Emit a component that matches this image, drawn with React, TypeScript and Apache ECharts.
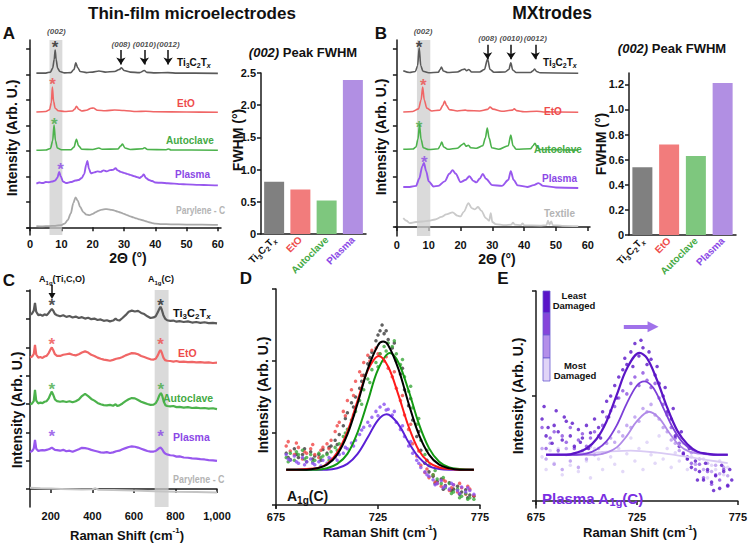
import React, { useEffect, useRef } from 'react';
import * as echarts from 'echarts';

const FONT = '"Liberation Sans", Arial, Helvetica, sans-serif';

// ---------------- Panel A: XRD (thin-film microelectrodes) ----------------
const xrdA_Ti = [[2,6.06],[5,6.06],[6.5,6.1],[7.2,6.25],[7.7,6.6],[8,6.97],[8.3,6.6],[8.8,6.25],[9.5,6.12],[11,6.07],[13,6.08],[14,6.2],[14.6,6.46],[15.2,6.28],[16,6.12],[18,6.08],[20,6.1],[22,6.14],[24,6.1],[27,6.12],[28.5,6.2],[29.2,6.27],[30,6.16],[32,6.1],[35,6.08],[36.5,6.16],[37.3,6.09],[40,6.07],[44,6.08],[47,6.06],[60,6.05]];
const xrdA_EtO = [[2,4.53],[5,4.55],[6.2,4.62],[6.8,4.9],[7.1,5.51],[7.5,4.95],[8,4.68],[9,4.58],[11,4.55],[13.5,4.57],[14.3,4.65],[14.8,4.76],[15.5,4.64],[16.5,4.57],[18,4.6],[19.5,4.68],[20.2,4.69],[21.5,4.6],[24,4.58],[27,4.61],[30,4.59],[34,4.55],[37,4.56],[40,4.54],[50,4.53],[60,4.52]];
const xrdA_Auto = [[2,3.03],[5,3.04],[6.5,3.1],[7.2,3.4],[7.65,4.02],[8.1,3.4],[8.7,3.12],[10,3.05],[13,3.05],[14,3.15],[14.8,3.46],[15.5,3.2],[16.5,3.07],[20,3.06],[22,3.12],[23,3.07],[28,3.08],[29,3.2],[29.5,3.27],[30.3,3.12],[32,3.06],[36,3.09],[36.6,3.13],[37.5,3.06],[43.5,3.05],[44.3,3.08],[45,3.04],[60,3.03]];
const xrdA_Plasma = [[2,1.72],[3,1.76],[4,1.74],[5,1.78],[6,1.77],[7,1.8],[8,1.84],[8.7,1.95],[9.3,2.18],[9.8,2.0],[10.5,1.8],[11.5,1.74],[13,1.78],[14.5,1.84],[15.5,1.86],[16.5,1.94],[17.3,2.1],[17.9,2.45],[18.3,2.61],[18.8,2.3],[19.4,2.12],[20.5,2.16],[21.5,2.2],[22.5,2.18],[23.5,2.24],[24.5,2.2],[25.5,2.25],[26.5,2.26],[27.3,2.32],[28,2.24],[29,2.18],[30,2.14],[31,2.1],[32,2.06],[33,2.02],[34,1.98],[35,1.94],[35.7,2.0],[36.3,2.08],[37,1.94],[38,1.86],[39,1.82],[40,1.76],[42,1.75],[44,1.73],[46,1.72],[48,1.7],[50,1.69],[54,1.67],[57,1.66],[60,1.65]];
const xrdA_Parylene = [[2,0.05],[4,0.04],[6,0.05],[8,0.06],[10,0.09],[11,0.15],[12,0.28],[13,0.55],[13.8,0.95],[14.5,1.18],[15.2,1.05],[16,0.8],[17,0.6],[18,0.5],[19,0.48],[20,0.53],[21,0.6],[22,0.66],[23,0.7],[24,0.72],[25,0.71],[26,0.69],[27,0.66],[28,0.62],[29,0.58],[30,0.53],[31,0.48],[32,0.43],[33,0.39],[34,0.35],[35,0.31],[36,0.28],[37,0.24],[38,0.2],[39,0.17],[40,0.15],[42,0.13],[45,0.12],[50,0.11],[55,0.11],[60,0.1]];

// ---------------- FWHM bars ----------------
const fwhmCategories = ['Ti3C2Tx', 'EtO', 'Autoclave', 'Plasma'];
const fwhmA = [0.81, 0.69, 0.52, 2.39];
const fwhmB = [0.54, 0.72, 0.63, 1.21];

// ---------------- Panel B: XRD (MXtrodes) ----------------
const xrdB_Ti = [[2,6.15],[4,6.08],[5.8,6.12],[6.5,6.35],[7,7.05],[7.5,6.35],[8.2,6.13],[10,6.07],[13,6.09],[13.6,6.2],[14,6.3],[14.6,6.14],[16,6.08],[19,6.1],[20.8,6.2],[21.3,6.22],[21.9,6.15],[22.6,6.2],[23.5,6.1],[26,6.1],[27.5,6.2],[28.5,6.61],[29.3,6.2],[30.5,6.09],[34,6.1],[35.2,6.2],[35.8,6.46],[36.4,6.18],[37.5,6.08],[42,6.08],[42.8,6.15],[43.3,6.22],[43.9,6.12],[45,6.07],[57,6.05]];
const xrdB_EtO = [[2,4.53],[5,4.55],[6.8,4.65],[7.6,5.0],[8.1,5.51],[8.6,5.0],[9.4,4.68],[11,4.57],[13.5,4.6],[14.5,4.8],[15,4.96],[15.6,4.78],[16.5,4.62],[19,4.57],[21.5,4.6],[22.5,4.58],[26,4.57],[28.5,4.63],[29.3,4.72],[30.2,4.64],[33,4.56],[36.3,4.6],[36.9,4.65],[37.6,4.58],[40,4.54],[44,4.56],[46,4.53],[57,4.52]];
const xrdB_Auto = [[2,3.06],[5,3.07],[6,3.15],[6.6,3.45],[7.1,4.02],[7.6,3.45],[8.3,3.12],[10,3.05],[13,3.08],[13.6,3.2],[14.1,3.35],[14.7,3.15],[16,3.06],[19,3.1],[20.6,3.25],[21.1,3.3],[21.7,3.18],[22.5,3.22],[23.2,3.12],[25,3.1],[27,3.2],[27.8,3.5],[28.4,3.9],[29,3.5],[29.8,3.12],[32,3.06],[35,3.2],[35.8,3.62],[36.5,3.2],[37.5,3.06],[42,3.08],[42.8,3.2],[43.4,3.3],[44,3.15],[45,3.05],[57,3.03]];
const xrdB_Plasma = [[2,1.58],[4,1.58],[6,1.62],[7,1.9],[8,2.4],[8.5,2.52],[9.2,2.2],[10,1.8],[11.5,1.6],[13,1.62],[15,1.8],[16.5,2.1],[17.5,2.24],[18.5,2.1],[20,1.77],[21.5,1.85],[22.8,2.0],[24,1.82],[25,1.76],[26,1.9],[27,2.09],[28,1.9],[30,1.65],[33,1.62],[35,1.85],[35.8,2.2],[36.7,1.85],[38,1.64],[41,1.58],[43,1.65],[44.5,1.73],[46,1.62],[50,1.56],[57,1.54]];
const xrdB_Textile = [[2,0.35],[3,0.25],[4,0.16],[6,0.2],[8,0.22],[10,0.25],[12,0.3],[14,0.4],[15.5,0.5],[17.5,0.58],[19,0.45],[20,0.42],[21,0.6],[22.5,0.94],[23.5,0.75],[24.5,0.7],[25.5,0.79],[26.5,0.65],[28,0.35],[29,0.25],[29.5,0.55],[30,0.2],[31,0.12],[34,0.08],[36,0.1],[36.5,0.18],[37,0.1],[39,0.08],[39.5,0.15],[40,0.07],[45,0.06],[47,0.08],[47.5,0.25],[48,0.1],[48.5,0.22],[49,0.08],[52,0.05],[57,0.04]];

// ---------------- Panel C: Raman ----------------
const ramanTi = [[100,6.15],[110,6.2],[118,6.3],[124,6.57],[130,6.26],[140,6.14],[150,6.16],[160,6.12],[170,6.17],[180,6.14],[190,6.22],[198,6.3],[205,6.36],[212,6.3],[220,6.18],[230,6.14],[245,6.1],[260,6.14],[275,6.08],[290,6.11],[305,6.06],[320,6.09],[335,6.04],[350,6.07],[365,6.02],[380,6.05],[395,6.0],[410,6.02],[425,5.97],[440,5.99],[455,5.94],[470,5.96],[485,5.92],[500,5.95],[512,6.02],[520,5.97],[530,5.95],[545,6.04],[560,6.14],[575,6.26],[590,6.3],[605,6.27],[620,6.29],[635,6.22],[650,6.18],[665,6.1],[680,6.04],[695,6.06],[705,6.1],[715,6.24],[722,6.36],[728,6.44],[734,6.34],[742,6.14],[750,6.02],[760,5.96],[775,5.94],[790,5.95],[805,5.91],[820,5.93],[840,5.9],[860,5.92],[880,5.88],[900,5.9],[920,5.87],[940,5.89],[960,5.86],[980,5.87],[1000,5.85]];
const ramanEtO = [[100,4.64],[110,4.68],[118,4.76],[124,5.09],[130,4.75],[140,4.64],[150,4.66],[160,4.63],[170,4.68],[180,4.7],[190,4.8],[198,4.92],[205,5.0],[212,4.9],[220,4.76],[230,4.7],[245,4.7],[260,4.74],[275,4.76],[290,4.78],[305,4.74],[320,4.72],[335,4.76],[350,4.82],[365,4.86],[380,4.82],[395,4.74],[410,4.7],[425,4.64],[440,4.6],[455,4.57],[470,4.55],[485,4.53],[500,4.56],[515,4.6],[530,4.62],[545,4.66],[560,4.72],[575,4.76],[590,4.8],[605,4.79],[620,4.76],[635,4.7],[650,4.66],[665,4.62],[680,4.58],[695,4.57],[705,4.6],[715,4.72],[722,4.84],[728,4.91],[734,4.82],[742,4.64],[750,4.55],[760,4.53],[775,4.52],[790,4.5],[805,4.52],[820,4.49],[840,4.5],[860,4.48],[880,4.49],[900,4.47],[920,4.48],[940,4.46],[960,4.47],[980,4.45],[1000,4.46]];
const ramanAuto = [[100,2.98],[110,3.02],[118,3.1],[124,3.5],[130,3.12],[140,3.02],[150,3.05],[160,3.03],[170,3.08],[180,3.1],[190,3.2],[198,3.34],[205,3.44],[212,3.32],[220,3.16],[230,3.1],[245,3.08],[260,3.1],[275,3.07],[290,3.1],[305,3.06],[320,3.1],[335,3.16],[350,3.28],[365,3.36],[380,3.28],[395,3.18],[410,3.12],[425,3.04],[440,2.99],[455,2.96],[470,2.95],[485,2.97],[500,2.94],[512,2.99],[520,2.93],[530,2.95],[545,3.02],[560,3.1],[575,3.17],[590,3.21],[605,3.2],[620,3.14],[635,3.08],[650,3.04],[665,3.0],[680,2.97],[695,2.98],[705,3.03],[715,3.16],[722,3.3],[730,3.39],[736,3.3],[744,3.08],[752,2.96],[760,2.93],[775,2.92],[790,2.93],[805,2.89],[820,2.9],[840,2.87],[860,2.89],[880,2.86],[900,2.87],[920,2.85],[940,2.86],[960,2.84],[980,2.85],[1000,2.82]];
const ramanPlasma = [[100,1.3],[110,1.34],[118,1.42],[124,1.73],[130,1.42],[140,1.34],[150,1.36],[160,1.37],[170,1.36],[180,1.38],[190,1.4],[198,1.43],[205,1.46],[212,1.42],[220,1.38],[230,1.37],[245,1.35],[260,1.38],[275,1.33],[290,1.35],[305,1.31],[320,1.36],[335,1.4],[350,1.45],[365,1.44],[380,1.42],[395,1.38],[410,1.35],[425,1.32],[440,1.29],[455,1.28],[470,1.3],[485,1.27],[500,1.29],[515,1.33],[530,1.35],[545,1.4],[560,1.44],[575,1.48],[590,1.5],[605,1.49],[620,1.46],[635,1.42],[650,1.38],[665,1.34],[680,1.32],[695,1.32],[705,1.34],[715,1.4],[722,1.44],[728,1.46],[736,1.4],[744,1.3],[752,1.24],[760,1.22],[775,1.19],[790,1.18],[805,1.14],[820,1.15],[840,1.11],[860,1.1],[880,1.08],[900,1.07],[920,1.05],[940,1.04],[960,1.02],[980,1.01],[1000,0.99]];
const ramanParylene = [[100,0.04],[150,0.02],[200,0.01],[250,0.0],[300,-0.01],[350,-0.02],[400,-0.01],[415,0.02],[430,-0.03],[500,-0.04],[600,-0.06],[700,-0.08],[800,-0.1],[900,-0.11],[1000,-0.13]];

// ---------------- Panel D: A1g(C) peak, all treatments ----------------
const dTiPts = [[680,0.72],[681,0.66],[682,0.63],[684,0.78],[685,0.7],[686,0.66],[688,0.7],[689,0.78],[690,0.6],[692,0.74],[693,0.64],[694,0.68],[696,0.7],[697,0.62],[698,0.77],[700,0.72],[701,0.8],[702,0.82],[704,0.9],[705,0.84],[706,0.98],[708,1.1],[709,1.2],[710,1.28],[712,1.42],[713,1.36],[714,1.5],[716,1.62],[717,1.72],[718,1.8],[720,1.96],[721,2.05],[722,2.12],[724,2.28],[725,2.36],[726,2.42],[727,2.5],[728,2.38],[729,2.42],[730,2.3],[732,2.18],[733,2.25],[734,2.0],[736,1.82],[737,1.9],[738,1.6],[740,1.38],[741,1.48],[742,1.18],[744,0.95],[745,1.02],[746,0.76],[748,0.58],[749,0.62],[750,0.46],[752,0.4],[753,0.3],[754,0.33],[756,0.36],[757,0.22],[758,0.27],[760,0.31],[761,0.2],[762,0.22],[764,0.26],[765,0.15],[766,0.18],[768,0.21],[769,0.1],[770,0.14],[772,0.12]];
const dEtOPts = [[680,0.82],[681,0.88],[682,0.75],[684,0.7],[685,0.86],[686,0.8],[688,0.64],[689,0.74],[690,0.72],[692,0.78],[693,0.84],[694,0.7],[696,0.66],[697,0.76],[698,0.8],[700,0.85],[701,0.78],[702,0.9],[704,1.02],[705,1.1],[706,1.15],[708,1.3],[709,1.24],[710,1.45],[712,1.6],[713,1.52],[714,1.72],[716,1.85],[717,1.8],[718,1.98],[720,2.08],[721,2.0],[722,2.15],[724,2.18],[725,2.1],[726,2.1],[728,2.0],[729,2.06],[730,1.9],[732,1.78],[733,1.85],[734,1.62],[736,1.45],[737,1.52],[738,1.25],[740,1.05],[741,1.12],[742,0.85],[744,0.68],[745,0.75],[746,0.55],[748,0.45],[749,0.5],[750,0.38],[752,0.42],[753,0.32],[754,0.3],[756,0.26],[757,0.35],[758,0.33],[760,0.2],[761,0.24],[762,0.28],[764,0.18],[765,0.3],[766,0.24],[768,0.15],[769,0.26],[770,0.22],[772,0.13]];
const dAutoPts = [[680,0.66],[681,0.6],[682,0.72],[684,0.62],[685,0.74],[686,0.7],[688,0.76],[689,0.64],[690,0.66],[692,0.7],[693,0.6],[694,0.62],[696,0.72],[697,0.66],[698,0.68],[700,0.7],[701,0.62],[702,0.74],[704,0.8],[705,0.76],[706,0.85],[708,0.95],[709,1.0],[710,1.05],[712,1.18],[713,1.25],[714,1.3],[716,1.45],[717,1.4],[718,1.6],[720,1.75],[721,1.7],[722,1.88],[724,1.98],[725,1.92],[726,2.1],[728,2.2],[729,2.14],[730,2.25],[732,2.2],[733,2.28],[734,2.1],[736,1.95],[737,2.02],[738,1.78],[740,1.58],[741,1.65],[742,1.35],[744,1.12],[745,1.2],[746,0.9],[748,0.7],[749,0.76],[750,0.55],[752,0.42],[753,0.48],[754,0.36],[756,0.3],[757,0.38],[758,0.24],[760,0.3],[761,0.16],[762,0.18],[764,0.22],[765,0.1],[766,0.12],[768,0.16],[769,0.08],[770,0.1],[772,0.08]];
const dPlasmaPts = [[680,0.7],[681,0.64],[682,0.62],[684,0.68],[685,0.6],[686,0.58],[688,0.66],[689,0.56],[690,0.6],[692,0.64],[693,0.58],[694,0.56],[696,0.6],[697,0.54],[698,0.62],[700,0.58],[701,0.66],[702,0.64],[704,0.66],[705,0.62],[706,0.7],[708,0.72],[709,0.8],[710,0.78],[712,0.86],[713,0.82],[714,0.9],[716,0.98],[717,1.04],[718,1.08],[720,1.15],[721,1.1],[722,1.22],[724,1.3],[725,1.24],[726,1.36],[728,1.4],[729,1.32],[730,1.33],[732,1.25],[733,1.3],[734,1.15],[736,1.05],[737,1.1],[738,0.95],[740,0.82],[741,0.88],[742,0.72],[744,0.62],[745,0.58],[746,0.52],[748,0.46],[749,0.42],[750,0.4],[752,0.35],[753,0.28],[754,0.3],[756,0.34],[757,0.24],[758,0.26],[760,0.22],[761,0.3],[762,0.28],[764,0.2],[765,0.16],[766,0.25],[768,0.18],[769,0.24],[770,0.2],[772,0.15]];
const dTiFit = [[680,0.49],[685,0.49],[690,0.49],[695,0.51],[700,0.56],[705,0.7],[710,0.98],[715,1.41],[720,1.89],[725,2.22],[727.5,2.27],[730,2.22],[735,1.89],[740,1.41],[745,0.98],[750,0.7],[755,0.56],[760,0.51],[765,0.49],[772,0.49]];
const dEtOFit = [[680,0.49],[685,0.49],[690,0.5],[695,0.51],[700,0.57],[705,0.73],[710,1.02],[715,1.45],[720,1.87],[725.4,2.07],[730,1.92],[735,1.53],[740,1.09],[745,0.76],[750,0.59],[755,0.52],[760,0.5],[765,0.49],[772,0.49]];
const dAutoFit = [[680,0.49],[690,0.49],[695,0.49],[700,0.51],[705,0.57],[710,0.71],[715,1.01],[720,1.44],[725,1.88],[730.8,2.11],[735,1.98],[740,1.59],[745,1.13],[750,0.79],[755,0.6],[760,0.52],[765,0.5],[772,0.49]];
const dPlasmaFit = [[680,0.49],[690,0.49],[700,0.49],[705,0.51],[710,0.57],[715,0.71],[720,0.94],[725,1.18],[729.3,1.26],[735,1.12],[740,0.87],[745,0.66],[750,0.54],[755,0.5],[760,0.49],[772,0.49]];

// ---------------- Panel E: Plasma A1g(C), damage levels ----------------
const eLeastPts = [[678,0.78],[679,0.9],[680,0.62],[681,0.7],[683,0.55],[684,0.72],[685,0.86],[686,0.66],[688,0.58],[689,0.8],[690,0.76],[692,0.62],[693,0.74],[694,0.52],[696,0.68],[697,0.56],[698,0.6],[700,0.72],[701,0.5],[702,0.65],[704,0.78],[706,0.7],[707,0.6],[708,0.85],[710,0.95],[711,0.8],[712,1.0],[714,1.1],[715,0.98],[716,1.18],[718,1.25],[719,1.36],[720,1.3],[722,1.42],[723,1.28],[724,1.5],[726,1.38],[727,1.53],[728,1.46],[730,1.3],[731,1.42],[732,1.35],[734,1.2],[735,1.28],[736,1.12],[738,1.0],[739,1.08],[740,0.85],[742,0.78],[743,0.88],[744,0.62],[746,0.52],[747,0.66],[748,0.45],[750,0.4],[751,0.5],[752,0.32],[754,0.38],[755,0.2],[756,0.28],[758,0.2],[759,0.36],[760,0.3],[762,0.18],[763,0.1],[764,0.24],[766,0.12],[767,0.34],[768,0.28],[770,0.15],[771,0.3],[772,0.2]];
const eMid1Pts = [[678,0.7],[680,0.5],[682,0.6],[684,0.66],[686,0.48],[688,0.62],[690,0.56],[692,0.7],[694,0.5],[696,0.58],[698,0.64],[700,0.52],[702,0.6],[704,0.66],[706,0.62],[708,0.72],[710,0.8],[712,0.86],[714,0.9],[716,0.98],[718,1.05],[720,1.02],[722,1.12],[724,1.18],[726,1.1],[728,1.22],[730,1.15],[732,1.08],[734,1.12],[736,0.98],[738,0.92],[740,0.82],[742,0.7],[744,0.6],[746,0.55],[748,0.46],[750,0.42],[752,0.36],[754,0.3],[756,0.35],[758,0.22],[760,0.28],[762,0.16],[764,0.25],[766,0.2],[768,0.3],[770,0.14]];
const eMid2Pts = [[678,0.5],[680,0.4],[682,0.55],[684,0.35],[686,0.45],[688,0.3],[690,0.5],[692,0.38],[694,0.45],[696,0.32],[698,0.48],[700,0.4],[702,0.52],[704,0.44],[706,0.5],[708,0.46],[710,0.55],[712,0.6],[714,0.56],[716,0.66],[718,0.62],[720,0.72],[722,0.7],[724,0.8],[726,0.76],[728,0.88],[730,0.85],[732,0.92],[734,0.82],[736,0.78],[738,0.7],[740,0.66],[742,0.58],[744,0.55],[746,0.48],[748,0.44],[750,0.4],[752,0.46],[754,0.35],[756,0.4],[758,0.3],[760,0.36],[762,0.28],[764,0.34],[766,0.26],[768,0.32],[770,0.24]];
const eMostPts = [[678,0.42],[680,0.3],[682,0.48],[684,0.36],[686,0.5],[688,0.25],[690,0.44],[692,0.34],[694,0.52],[696,0.28],[698,0.46],[700,0.38],[702,0.22],[704,0.5],[706,0.4],[708,0.3],[710,0.55],[712,0.42],[714,0.35],[716,0.5],[718,0.28],[720,0.45],[722,0.6],[724,0.38],[726,0.5],[728,0.3],[730,0.56],[732,0.44],[734,0.36],[736,0.62],[738,0.4],[740,0.5],[742,0.32],[744,0.46],[746,0.38],[748,0.55],[750,0.3],[752,0.42],[754,0.35],[756,0.28],[758,0.4],[760,0.22],[762,0.34],[764,0.3],[766,0.38],[768,0.25],[770,0.32]];
const eLeastFit = [[680,0.44],[685,0.44],[690,0.44],[695,0.46],[700,0.5],[705,0.59],[710,0.76],[715,1.01],[720,1.26],[726.3,1.41],[730,1.36],[735,1.15],[740,0.89],[745,0.67],[750,0.54],[755,0.47],[760,0.45],[765,0.44],[770,0.44]];
const eMid1Fit = [[680,0.44],[690,0.44],[695,0.44],[700,0.45],[705,0.49],[710,0.57],[715,0.72],[720,0.93],[725,1.1],[728.6,1.14],[733,1.08],[738,0.89],[743,0.69],[748,0.55],[753,0.48],[758,0.45],[764,0.44],[770,0.44]];
const eMid2Fit = [[680,0.44],[695,0.44],[705,0.44],[710,0.46],[715,0.51],[720,0.62],[725,0.76],[731,0.85],[736,0.79],[741,0.65],[746,0.53],[751,0.47],[756,0.45],[763,0.44],[770,0.44]];
const eMostFit = [[680,0.44],[695,0.45],[710,0.47],[722,0.48],[735,0.46],[750,0.42],[760,0.39],[770,0.36]];

// ---------------- ticks ----------------
const xrdTicks = [0, 10, 20, 30, 40, 50, 60];
const xrdYTicks = [0, 1, 2, 3, 4, 5, 6, 7];
const ramanTicks = [200, 400, 600, 800, 1000];
const ramanYTicks = [0, 1, 2, 3, 4, 5, 6, 7];
const zoomTicks = [675, 725, 775];
const dYTicks = [0, 1, 2, 3];
const eYTicks = [0, 1, 2];
const fwhmBTicks = [0, 0.2, 0.4, 0.6, 0.8, 1.0, 1.2];

// colours
const C_TI = '#5a5a5a', C_ETO = '#f06666', C_AUTO = '#4cb24c', C_PLASMA = '#9858ee', C_PARY = '#a8a8a8', C_TEXTILE = '#cacaca';
const T_TI = '#111', T_ETO = '#ee4b4b', T_AUTO = '#45aa45', T_PLASMA = '#8b48e6', T_PARY = '#b4b4b4';
const BAR_COLORS = ['#808080', '#f27c7c', '#7ec77e', '#b18fe3'];

const AX = '#1a1a1a';
const lbl = { color: '#111', fontFamily: FONT, fontWeight: 'bold', fontSize: 11 };

function valueAxis(gi: number, min: number, max: number, ticks: number[] | null, showLabels: boolean, extra: any = {}) {
  return {
    gridIndex: gi, type: 'value', min, max,
    axisLine: { show: true, lineStyle: { color: AX, width: 1.5 } },
    axisTick: { show: true, length: 4, lineStyle: { color: AX, width: 1.5 }, ...(ticks ? { customValues: ticks } : {}) },
    axisLabel: { show: showLabels, ...lbl, margin: 3, ...(ticks ? { customValues: ticks } : {}), ...(extra.axisLabel || {}) },
    splitLine: { show: false },
    ...(extra.rest || {}),
  };
}

function lineS(gi: number, data: number[][], color: string, width = 1.6, smooth: number | boolean = 0.3, extra: any = {}) {
  return {
    type: 'line', xAxisIndex: gi, yAxisIndex: gi, data, showSymbol: false, symbol: 'none',
    smooth, smoothMonotone: 'x', lineStyle: { color, width }, itemStyle: { color }, silent: true, z: 3, ...extra,
  };
}
function fitS(gi: number, data: number[][], color: string, width = 2) {
  return {
    type: 'line', xAxisIndex: gi, yAxisIndex: gi, data, showSymbol: false, symbol: 'none',
    smooth: 0.35, lineStyle: { color, width }, itemStyle: { color }, silent: true, z: 4,
  };
}

function scatterS(gi: number, data: number[][], color: string, size = 3.5) {
  return { type: 'scatter', xAxisIndex: gi, yAxisIndex: gi, data, symbolSize: size, itemStyle: { color }, silent: true, z: 2 };
}

const star = (x: number, y: number, color: string) => ({ value: [x, y], label: { formatter: '*', color } });
const note = (x: number, y: number, text: string) => ({ value: [x, y], label: { formatter: text, fontSize: 8, fontStyle: 'italic', color: '#222', offset: [0, 0] } });

function annotS(gi: number, data: any[], markLineData: any[], mlStyle: any = {}) {
  return {
    type: 'scatter', xAxisIndex: gi, yAxisIndex: gi, clip: false, silent: true, z: 6,
    symbol: 'circle', symbolSize: 1, itemStyle: { color: 'rgba(0,0,0,0)' },
    label: { show: true, position: 'inside', fontFamily: FONT, fontWeight: 'bold', fontSize: 17, offset: [0, 4] },
    data,
    markLine: {
      silent: true, symbol: ['none', mlStyle.symbol || 'arrow'], symbolSize: mlStyle.symbolSize || 7,
      lineStyle: { color: mlStyle.color || '#111', width: mlStyle.width || 1.5, type: 'solid' },
      label: { show: false }, data: markLineData,
    },
  };
}

const band = (a: number, b: number) => ({
  silent: true, itemStyle: { color: 'rgba(205,205,205,0.75)' }, data: [[{ xAxis: a }, { xAxis: b }]],
});

const barRich = {
  k: { color: T_TI, fontFamily: FONT, fontWeight: 'bold', fontSize: 10, lineHeight: 14 },
  ks: { color: T_TI, fontFamily: FONT, fontWeight: 'bold', fontSize: 7, lineHeight: 8, verticalAlign: 'bottom' },
  kx: { color: T_TI, fontFamily: FONT, fontWeight: 'bold', fontStyle: 'italic', fontSize: 7, lineHeight: 8, verticalAlign: 'bottom' },
  r: { color: T_ETO, fontFamily: FONT, fontWeight: 'bold', fontSize: 10 },
  g: { color: T_AUTO, fontFamily: FONT, fontWeight: 'bold', fontSize: 10 },
  p: { color: T_PLASMA, fontFamily: FONT, fontWeight: 'bold', fontSize: 10 },
};
const barLabelFmt = (_v: string, i: number) => ['{k|Ti}{ks|3}{k|C}{ks|2}{k|T}{kx|x}', '{r|EtO}', '{g|Autoclave}', '{p|Plasma}'][i];

function barXAxis(gi: number) {
  return {
    gridIndex: gi, type: 'category', data: fwhmCategories,
    axisLine: { show: true, lineStyle: { color: AX, width: 1.5 } },
    axisTick: { show: false },
    axisLabel: { rotate: 45, margin: 4, interval: 0, formatter: barLabelFmt, rich: barRich },
  };
}
const fwhmFmt = (v: number) => (v === 0 ? '0' : v.toFixed(1));

function barSeries(gi: number, vals: number[]) {
  return {
    type: 'bar', xAxisIndex: gi, yAxisIndex: gi, barWidth: 20, silent: true,
    data: vals.map((v, i) => ({ value: v, itemStyle: { color: BAR_COLORS[i] } })),
  };
}

// ---- text helpers (graphic) ----
function txt(x: number, y: number, text: string, opt: any = {}) {
  return {
    type: 'text', x, y, rotation: opt.rotation || 0, scaleX: opt.scaleX || 1, silent: true, z: 20,
    style: {
      text, fill: opt.color || '#111', font: `${opt.italic ? 'italic ' : ''}bold ${opt.size || 11}px ${FONT}`,
      align: opt.align || 'left', verticalAlign: 'middle', rich: opt.rich, lineHeight: opt.lineHeight,
    },
  };
}
const tiRich = (size: number, color = '#111') => ({
  n: { fill: color, fontFamily: FONT, fontWeight: 'bold', fontSize: size, lineHeight: size + 4 },
  s: { fill: color, fontFamily: FONT, fontWeight: 'bold', fontSize: Math.round(size * 0.72), lineHeight: Math.round(size * 0.8), verticalAlign: 'bottom' },
  x: { fill: color, fontFamily: FONT, fontWeight: 'bold', fontStyle: 'italic', fontSize: Math.round(size * 0.72), lineHeight: Math.round(size * 0.8), verticalAlign: 'bottom' },
});
const TI_STR = '{n|Ti}{s|3}{n|C}{s|2}{n|T}{x|x}';
const supRich = (size: number, color = '#111') => ({
  n: { fill: color, fontFamily: FONT, fontWeight: 'bold', fontSize: size, lineHeight: size + 4 },
  u: { fill: color, fontFamily: FONT, fontWeight: 'bold', fontSize: Math.round(size * 0.65), lineHeight: Math.round(size * 0.7), verticalAlign: 'top' },
  s: { fill: color, fontFamily: FONT, fontWeight: 'bold', fontSize: Math.round(size * 0.72), lineHeight: Math.round(size * 0.8), verticalAlign: 'bottom' },
  i: { fill: color, fontFamily: FONT, fontWeight: 'bold', fontStyle: 'italic', fontSize: size, lineHeight: size + 4 },
});

const graphics: any[] = [
  // panel titles
  txt(192, 13, 'Thin-film microelectrodes', { size: 17, align: 'center' }),
  txt(552, 13, 'MXtrodes', { size: 17.5, align: 'center' }),
  txt(9, 33, 'A', { size: 17, align: 'center' }),
  txt(381, 33, 'B', { size: 17, align: 'center' }),
  txt(9, 280, 'C', { size: 17, align: 'center' }),
  txt(246, 278, 'D', { size: 17, align: 'center' }),
  txt(503, 278, 'E', { size: 17, align: 'center' }),
  // bar titles
  txt(303, 52, '{i|(002)}{n| Peak FWHM}', { size: 13, align: 'center', rich: supRich(13) }),
  txt(672, 48, '{i|(002)}{n| Peak FWHM}', { size: 13, align: 'center', rich: supRich(13) }),
  // y titles
  txt(12, 138, 'Intensity (Arb. U.)', { size: 14, align: 'center', rotation: Math.PI / 2 }),
  txt(381, 137, 'Intensity (Arb. U.)', { size: 14, align: 'center', rotation: Math.PI / 2 }),
  txt(17, 410, 'Intensity (Arb. U.)', { size: 14, align: 'center', rotation: Math.PI / 2 }),
  txt(263, 395, 'Intensity (Arb. U.)', { size: 14, align: 'center', rotation: Math.PI / 2 }),
  txt(518, 396, 'Intensity (Arb. U.)', { size: 14, align: 'center', rotation: Math.PI / 2 }),
  txt(238, 140, 'FWHM (°)', { size: 14, align: 'center', rotation: Math.PI / 2 }),
  txt(601, 144, 'FWHM (°)', { size: 14, align: 'center', rotation: Math.PI / 2 }),
  // x titles
  txt(128, 258, '2Θ (°)', { size: 14, align: 'center' }),
  txt(497, 259, '2Θ (°)', { size: 14, align: 'center' }),
  txt(127, 535, '{n|Raman Shift (cm}{u|-1}{n|)}', { size: 13, align: 'center', rich: supRich(13) }),
  txt(380, 532, '{n|Raman Shift (cm}{u|-1}{n|)}', { size: 13, align: 'center', rich: supRich(13) }),
  txt(640, 532, '{n|Raman Shift (cm}{u|-1}{n|)}', { size: 13, align: 'center', rich: supRich(13) }),
  // trace labels A
  txt(177, 62, TI_STR, { size: 10, rich: tiRich(10) }),
  txt(177, 103, 'EtO', { size: 10, color: T_ETO }),
  txt(166, 140, 'Autoclave', { size: 10, color: T_AUTO }),
  txt(175, 174, 'Plasma', { size: 10, color: T_PLASMA }),
  txt(176, 211, 'Parylene - C', { size: 10, color: T_PARY, scaleX: 0.85 }),
  // trace labels B
  txt(543, 62, TI_STR, { size: 10, rich: tiRich(10) }),
  txt(544, 111, 'EtO', { size: 10, color: T_ETO }),
  txt(534, 149, 'Autoclave', { size: 10, color: T_AUTO }),
  txt(542, 178, 'Plasma', { size: 10, color: T_PLASMA }),
  txt(544, 213, 'Textile', { size: 10, color: T_PARY }),
  // trace labels C
  txt(173, 313, TI_STR, { size: 11, rich: tiRich(11) }),
  txt(178, 353, 'EtO', { size: 10.5, color: T_ETO }),
  txt(163, 398, 'Autoclave', { size: 10.5, color: T_AUTO }),
  txt(173, 437, 'Plasma', { size: 10.5, color: T_PLASMA }),
  txt(173, 479, 'Parylene - C', { size: 10.5, color: T_PARY, scaleX: 0.85 }),
  // C peak names and arrow
  txt(62, 279, '{n|A}{s|1g}{n|(Ti,C,O)}', { size: 9, align: 'center', rich: supRich(9) }),
  txt(161, 279, '{n|A}{s|1g}{n|(C)}', { size: 9, align: 'center', rich: supRich(9) }),
  { type: 'line', silent: true, z: 20, shape: { x1: 52, y1: 285, x2: 52, y2: 294 }, style: { stroke: '#111', lineWidth: 1.5 } },
  { type: 'polygon', silent: true, z: 20, shape: { points: [[48.5, 293], [55.5, 293], [52, 299]] }, style: { fill: '#111' } },
  // D / E panel notes
  txt(287, 496, '{n|A}{s|1g}{n|(C)}', { size: 14, rich: supRich(14) }),
  txt(542, 498, '{n|Plasma A}{s|1g}{n|(C)}', { size: 15, rich: supRich(15, '#7a2fe2') }),
  // E legend
  { type: 'rect', silent: true, z: 20, shape: { x: 543, y: 291, width: 7, height: 22 }, style: { fill: '#5a14c8', stroke: '#6a5ad0', lineWidth: 0.8 } },
  { type: 'rect', silent: true, z: 20, shape: { x: 543, y: 313, width: 7, height: 22 }, style: { fill: '#8645da', stroke: '#6a5ad0', lineWidth: 0.8 } },
  { type: 'rect', silent: true, z: 20, shape: { x: 543, y: 335, width: 7, height: 23 }, style: { fill: '#b48fe9', stroke: '#6a5ad0', lineWidth: 0.8 } },
  { type: 'rect', silent: true, z: 20, shape: { x: 543, y: 358, width: 7, height: 23 }, style: { fill: '#e0d4f7', stroke: '#6a5ad0', lineWidth: 0.8 } },
  txt(574, 300, 'Least\nDamaged', { size: 9.5, align: 'center', lineHeight: 10 }),
  txt(575, 370, 'Most\nDamaged', { size: 9.5, align: 'center', lineHeight: 10 }),
];

const option: any = {
  animation: false,
  backgroundColor: '#ffffff',
  textStyle: { fontFamily: FONT },
  grid: [
    { left: 27, top: 40, width: 194, height: 195 },   // 0 A xrd
    { left: 261, top: 73, width: 105, height: 161 },  // 1 A bar
    { left: 395, top: 40, width: 195, height: 196 },  // 2 B xrd
    { left: 629, top: 73, width: 107, height: 162 },  // 3 B bar
    { left: 30, top: 290, width: 187, height: 217 },  // 4 C raman
    { left: 276, top: 289, width: 204, height: 219 }, // 5 D
    { left: 536, top: 291, width: 209, height: 217 }, // 6 E
  ],
  xAxis: [
    valueAxis(0, -1, 61, xrdTicks, true),
    barXAxis(1),
    valueAxis(2, -0.6, 60.7, xrdTicks, true),
    barXAxis(3),
    valueAxis(4, 100, 1000, ramanTicks, true, { axisLabel: { formatter: (v: number) => v.toLocaleString('en-US') } }),
    valueAxis(5, 675, 775, zoomTicks, true),
    valueAxis(6, 675, 775, zoomTicks, true),
  ],
  yAxis: [
    valueAxis(0, -0.3, 7.36, xrdYTicks, false),
    valueAxis(1, 0, 2.5, null, true, { axisLabel: { formatter: fwhmFmt, margin: 5 }, rest: { interval: 0.5 } }),
    valueAxis(2, -0.35, 7.36, xrdYTicks, false),
    valueAxis(3, 0, 1.29, fwhmBTicks, true, { axisLabel: { formatter: fwhmFmt, margin: 5 } }),
    valueAxis(4, -0.64, 7.03, ramanYTicks, false),
    valueAxis(5, -0.042, 3, dYTicks, false),
    valueAxis(6, -0.067, 2, eYTicks, false),
  ],
  series: [
    // ---- A xrd
    lineS(0, xrdA_Parylene, C_PARY, 1.8, 0.3, { markArea: band(6.2, 10.3) }),
    lineS(0, xrdA_Plasma, C_PLASMA, 1.9),
    lineS(0, xrdA_Auto, C_AUTO, 1.6),
    lineS(0, xrdA_EtO, C_ETO, 1.6),
    lineS(0, xrdA_Ti, C_TI, 1.6),
    annotS(0, [
      star(8, 7.24, '#222'), star(7.2, 5.77, T_ETO), star(7.7, 4.21, T_AUTO), star(9.7, 2.44, T_PLASMA),
      note(8.4, 7.68, '(002)'), note(29, 7.17, '(008)'), note(36.5, 7.17, '(0010)'), note(44.1, 7.17, '(0012)'),
    ], [
      [{ coord: [29, 6.97] }, { coord: [29, 6.4] }],
      [{ coord: [36.5, 6.97] }, { coord: [36.5, 6.4] }],
      [{ coord: [44.1, 6.97] }, { coord: [44.1, 6.4] }],
    ]),
    // ---- A bar
    barSeries(1, fwhmA),
    // ---- B xrd
    lineS(2, xrdB_Textile, C_TEXTILE, 1.8, 0.3, { markArea: band(6.3, 10.5) }),
    lineS(2, xrdB_Plasma, C_PLASMA, 1.9),
    lineS(2, xrdB_Auto, C_AUTO, 1.6),
    lineS(2, xrdB_EtO, C_ETO, 1.6),
    lineS(2, xrdB_Ti, C_TI, 1.6),
    annotS(2, [
      star(7, 7.24, '#222'), star(8.3, 5.71, T_ETO), star(7, 4.09, T_AUTO), star(8.6, 2.68, T_PLASMA),
      note(8.2, 7.68, '(002)'), note(28.5, 7.4, '(008)'), note(35.9, 7.4, '(0010)'), note(43.5, 7.4, '(0012)'),
    ], [
      [{ coord: [28.5, 7.17] }, { coord: [28.5, 6.6] }],
      [{ coord: [35.9, 7.17] }, { coord: [35.9, 6.6] }],
      [{ coord: [43.5, 7.17] }, { coord: [43.5, 6.6] }],
    ]),
    // ---- B bar
    barSeries(3, fwhmB),
    // ---- C raman
    lineS(4, ramanParylene, '#c4c4c4', 2, false, { markArea: band(700, 767) }),
    lineS(4, ramanPlasma, C_PLASMA, 2.2, false),
    lineS(4, ramanAuto, C_AUTO, 2.2, false),
    lineS(4, ramanEtO, C_ETO, 2.2, false),
    lineS(4, ramanTi, C_TI, 2.2, false),
    annotS(4, [
      star(205, 6.61, '#222'), star(728, 6.61, '#222'),
      star(205, 5.23, T_ETO), star(728, 5.23, T_ETO),
      star(205, 3.64, T_AUTO), star(730, 3.64, T_AUTO),
      star(205, 1.98, T_PLASMA), star(728, 1.98, T_PLASMA),
    ], []),
    // ---- D
    scatterS(5, dTiPts, '#3a3a3a'),
    scatterS(5, dEtOPts, '#f04545'),
    scatterS(5, dAutoPts, '#3aa83a'),
    scatterS(5, dPlasmaPts, '#8a4ff0'),
    fitS(5, dPlasmaFit, '#5a1fd6'),
    fitS(5, dAutoFit, '#139a13'),
    fitS(5, dEtOFit, '#ff1a1a'),
    fitS(5, dTiFit, '#000000'),
    // ---- E
    scatterS(6, eMostPts, '#dccff6'),
    scatterS(6, eMid2Pts, '#b897ee'),
    scatterS(6, eMid1Pts, '#8b4fe0'),
    scatterS(6, eLeastPts, '#5a14c8'),
    fitS(6, eMostFit, '#d9caf4', 1.8),
    fitS(6, eMid2Fit, '#b08ae8', 1.8),
    fitS(6, eMid1Fit, '#7c3fd8', 1.8),
    fitS(6, eLeastFit, '#5b15c6', 2.2),
    annotS(6, [], [
      [{ coord: [718.5, 1.66] }, { coord: [733, 1.66] }],
    ], { symbol: 'triangle', symbolSize: 11, color: '#a072ea', width: 4 }),
  ],
  graphic: graphics,
};

export default function App() {
  const ref = useRef<HTMLDivElement>(null);
  useEffect(() => {
    const chart = echarts.init(ref.current!, null, { renderer: 'svg' });
    chart.setOption(option);
    return () => chart.dispose();
  }, []);
  return (
    <div
      ref={ref}
      style={{ position: 'absolute', left: 0, top: 0, width: 750, height: 543, background: '#fff' }}
    />
  );
}
